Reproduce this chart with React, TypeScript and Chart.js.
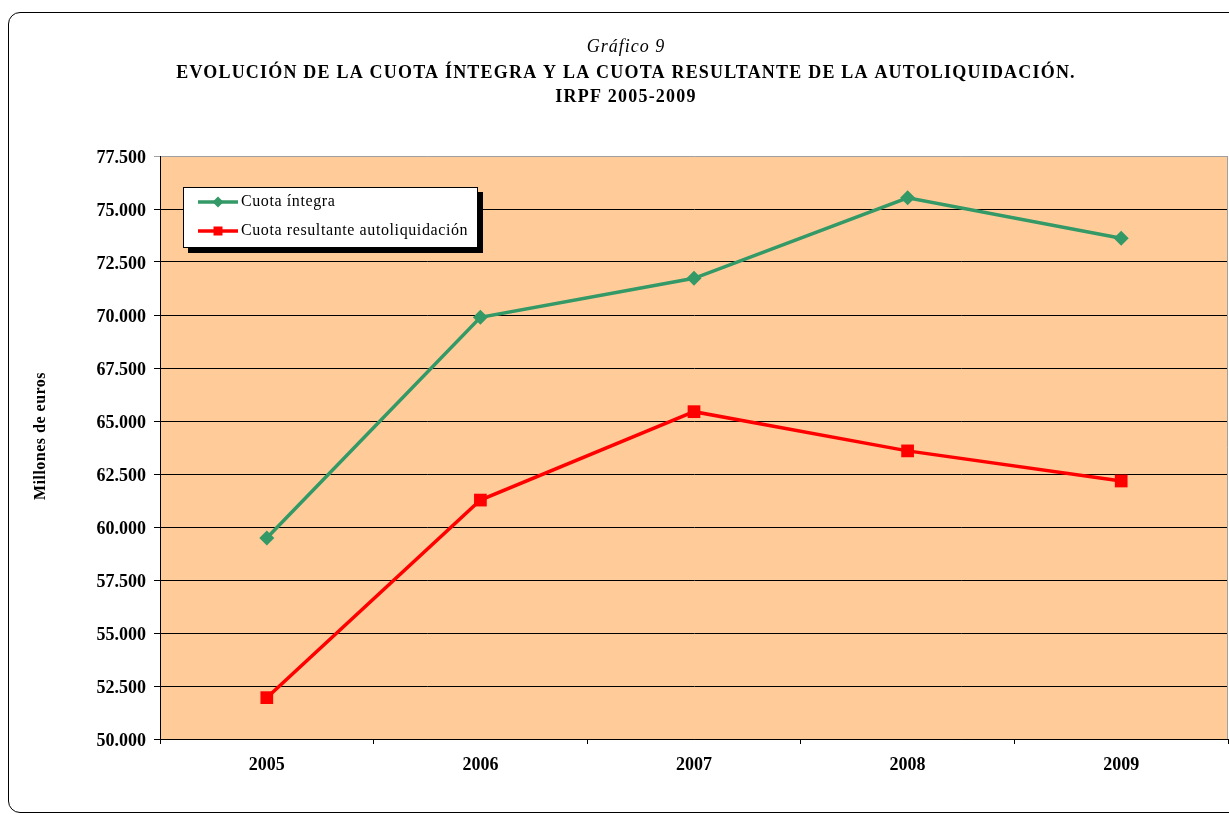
import React, { useEffect, useRef } from 'react';
import { Chart, registerables } from 'chart.js';

Chart.register(...registerables);

const years = ['2005', '2006', '2007', '2008', '2009'];
const cuotaIntegra = [59480, 69890, 71730, 75530, 73620];
const cuotaResultante = [51950, 61270, 65440, 63590, 62170];
const seriesLabels = ['Cuota íntegra', 'Cuota resultante autoliquidación'];
const yMin = 50000;
const yMax = 77500;
const yStep = 2500;
const supTitle = 'Gráfico 9';
const titleLines = [
  'EVOLUCIÓN DE LA CUOTA ÍNTEGRA Y LA CUOTA RESULTANTE DE LA AUTOLIQUIDACIÓN.',
  'IRPF 2005-2009',
];
const yAxisTitle = 'Millones de euros';

const SERIF = '"Liberation Serif", "Times New Roman", serif';
const GREEN = '#339966';
const RED = '#FF0000';
const PLOT_BG = '#FFCC99';

const fmt = (v: number) => {
  const th = Math.floor(v / 1000);
  const rest = String(Math.round(v % 1000)).padStart(3, '0');
  return th + '.' + rest;
};

const decorPlugin = {
  id: 'decor',
  beforeDraw(chart: any) {
    const { ctx, chartArea: a } = chart;
    ctx.save();
    ctx.fillStyle = PLOT_BG;
    ctx.fillRect(a.left, a.top, a.right - a.left, a.bottom - a.top);
    ctx.restore();
  },
  afterDraw(chart: any) {
    const { ctx, chartArea: a, width } = chart;
    ctx.save();
    // right border of plot area
    ctx.strokeStyle = '#A0A0A0';
    ctx.lineWidth = 1;
    ctx.beginPath();
    ctx.moveTo(Math.round(a.right) - 0.5, a.top);
    ctx.lineTo(Math.round(a.right) - 0.5, a.bottom);
    ctx.stroke();

    // titles
    ctx.fillStyle = '#000';
    ctx.textAlign = 'center';
    ctx.textBaseline = 'middle';
    const cx = width / 2;
    ctx.font = 'italic 18px ' + SERIF;
    ctx.letterSpacing = '1px';
    ctx.fillText(supTitle, cx, 35);
    ctx.font = 'bold 18px ' + SERIF;
    ctx.letterSpacing = '1.2px';
    ctx.fillText(titleLines[0], cx, 61);
    ctx.fillText(titleLines[1], cx, 85);

    // y axis title
    ctx.save();
    ctx.translate(33, 424);
    ctx.rotate(-Math.PI / 2);
    ctx.font = 'bold 16px ' + SERIF;
    ctx.letterSpacing = '0.5px';
    ctx.fillText(yAxisTitle, 0, 0);
    ctx.restore();

    // legend
    const bx = a.left + 23;
    const by = a.top + 31;
    const bw = 295;
    const bh = 61;
    ctx.fillStyle = '#000';
    ctx.fillRect(bx + 5, by + 5, bw, bh);
    ctx.fillStyle = '#fff';
    ctx.fillRect(bx, by, bw, bh);
    ctx.strokeStyle = '#000';
    ctx.lineWidth = 1;
    ctx.strokeRect(bx + 0.5, by + 0.5, bw - 1, bh - 1);
    const rows = [by + 15, by + 44];
    chart.data.datasets.forEach((ds: any, i: number) => {
      const y = rows[i];
      ctx.strokeStyle = ds.borderColor;
      ctx.lineWidth = ds.borderWidth;
      ctx.beginPath();
      ctx.moveTo(bx + 15, y);
      ctx.lineTo(bx + 55, y);
      ctx.stroke();
      ctx.fillStyle = ds.borderColor;
      if (ds.pointStyle === 'rectRot') {
        const r = 5.5;
        ctx.beginPath();
        ctx.moveTo(bx + 35 - r, y);
        ctx.lineTo(bx + 35, y - r);
        ctx.lineTo(bx + 35 + r, y);
        ctx.lineTo(bx + 35, y + r);
        ctx.closePath();
        ctx.fill();
      } else {
        ctx.fillRect(bx + 35 - 4.5, y - 4.5, 9, 9);
      }
      ctx.fillStyle = '#000';
      ctx.textAlign = 'left';
      ctx.textBaseline = 'middle';
      ctx.font = '16px ' + SERIF;
      ctx.letterSpacing = '0.6px';
      ctx.fillText(ds.label, bx + 58, y);
    });
    ctx.restore();
  },
};

export default function App() {
  const ref = useRef<HTMLCanvasElement | null>(null);

  useEffect(() => {
    if (!ref.current) return;
    const chart = new Chart(ref.current, {
      type: 'line',
      data: {
        labels: years,
        datasets: [
          {
            label: seriesLabels[0],
            data: cuotaIntegra,
            borderColor: GREEN,
            backgroundColor: GREEN,
            borderWidth: 3.5,
            pointStyle: 'rectRot',
            pointRadius: 7.5,
            pointHoverRadius: 7.5,
            pointBorderWidth: 0,
            tension: 0,
          },
          {
            label: seriesLabels[1],
            data: cuotaResultante,
            borderColor: RED,
            backgroundColor: RED,
            borderWidth: 3.5,
            pointStyle: 'rect',
            pointRadius: 9,
            pointHoverRadius: 9,
            pointBorderWidth: 0,
            tension: 0,
          },
        ],
      },
      options: {
        responsive: false,
        animation: false,
        devicePixelRatio: 1,
        layout: { padding: { top: 144, left: 0, right: 16, bottom: 0 } },
        plugins: {
          legend: { display: false },
          title: { display: false },
          tooltip: { enabled: false },
        },
        scales: {
          x: {
            type: 'category',
            offset: true,
            grid: {
              offset: true,
              drawOnChartArea: false,
              drawTicks: true,
              tickLength: 5,
              color: '#000',
            },
            border: { display: true, color: '#000', width: 1 },
            ticks: {
              color: '#000',
              font: { family: SERIF, size: 18, weight: 'bold' },
              padding: 11,
              maxRotation: 0,
            },
            afterFit: (s: any) => {
              s.height = 73;
            },
          },
          y: {
            min: yMin,
            max: yMax,
            grid: {
              color: (c: any) => (c.tick && c.tick.value === yMax ? '#A0A0A0' : '#000'),
              tickLength: 6,
              drawTicks: true,
            },
            border: { display: true, color: '#000', width: 1 },
            ticks: {
              stepSize: yStep,
              color: '#000',
              font: { family: SERIF, size: 18, weight: 'bold' },
              padding: 8,
              labelOffset: 2,
              callback: (v: any) => fmt(Number(v)),
            },
            afterFit: (s: any) => {
              s.width = 152;
            },
          },
        },
      },
      plugins: [decorPlugin],
    } as any);
    return () => chart.destroy();
  }, []);

  return (
    <div
      style={{
        position: 'fixed',
        left: 0,
        top: 0,
        width: 1229,
        height: 814,
        overflow: 'hidden',
        background: '#fff',
      }}
    >
      <div
        style={{
          position: 'absolute',
          left: 8,
          top: 12,
          width: 1270,
          height: 801,
          border: '1px solid #000',
          borderRadius: 12,
          boxSizing: 'border-box',
        }}
      />
      <div style={{ position: 'absolute', left: 8, top: 12, width: 1236, height: 800 }}>
        <canvas ref={ref} width={1236} height={800} style={{ width: 1236, height: 800, display: 'block' }} />
      </div>
    </div>
  );
}
